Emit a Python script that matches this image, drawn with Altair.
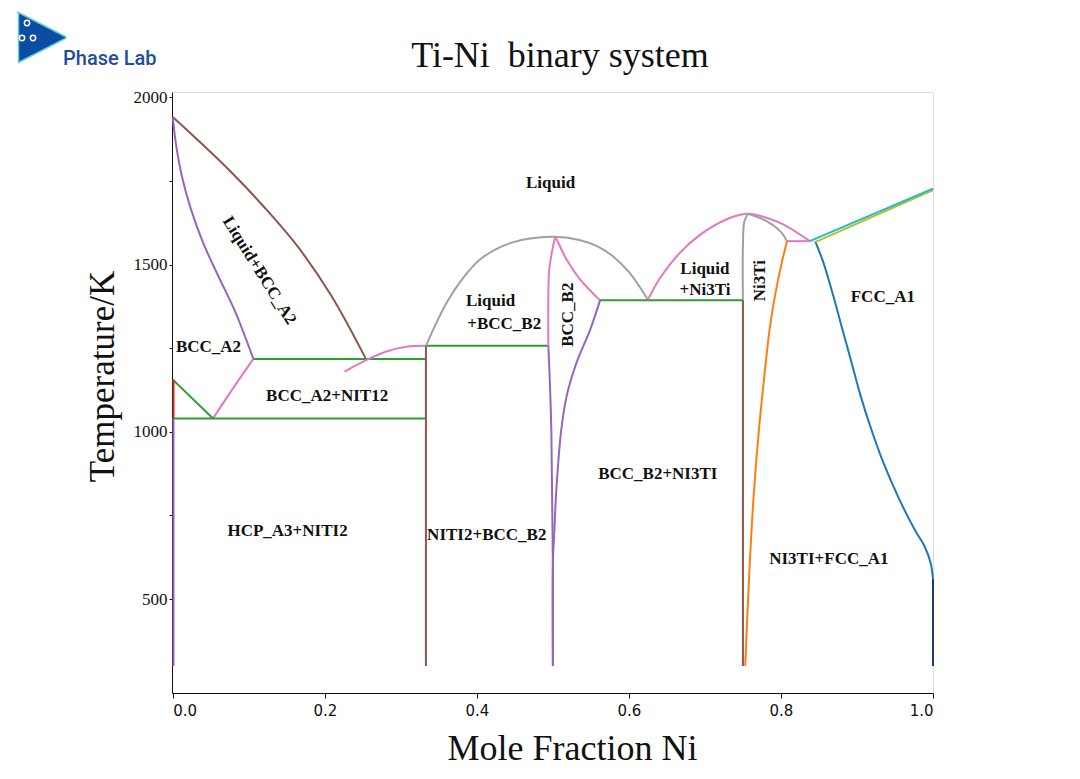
import altair as alt
import pandas as pd

# ---------------- data ----------------
liq_A2_x = [0.0, 0.033, 0.077, 0.121, 0.165, 0.209, 0.254]
liq_A2_T = [1941, 1872, 1776, 1670, 1552, 1405, 1218]

sol_A2_x = [0.0, 0.004, 0.012, 0.024, 0.040, 0.060, 0.081, 0.106]
sol_A2_T = [1941, 1864, 1764, 1665, 1565, 1465, 1365, 1218]

solv_A2_x = [0.106, 0.079, 0.053]
solv_A2_T = [1218, 1129, 1040]

eut_1218_x = [0.106, 0.333]
eut_1218_T = [1218, 1218]

eut_1040_x = [0.0, 0.333]
eut_1040_T = [1040, 1040]

hcp_diag_x = [0.0, 0.053]
hcp_diag_T = [1156, 1040]

hcp_red_x = [0.001, 0.001]
hcp_red_T = [1156, 1040]

hcp_solv_x = [0.001, 0.001]
hcp_solv_T = [1040, 300]

liq_Ti2Ni_x = [0.226, 0.255, 0.281, 0.307, 0.333]
liq_Ti2Ni_T = [1180, 1215, 1240, 1254, 1257]

Ti2Ni_x = [0.333, 0.333]
Ti2Ni_T = [1257, 300]

per_1257_x = [0.333, 0.494]
per_1257_T = [1257, 1257]

liq_B2_x = [0.333, 0.360, 0.382, 0.404, 0.426, 0.448, 0.470, 0.503, 0.536, 0.558, 0.579, 0.601, 0.625]
liq_B2_T = [1257, 1385, 1460, 1515, 1547, 1567, 1578, 1583, 1573, 1555, 1525, 1475, 1395]

sol_B2_left_x = [0.503, 0.499, 0.495, 0.494, 0.494]
sol_B2_left_T = [1583, 1540, 1480, 1400, 1257]

sol_B2_right_x = [0.503, 0.505, 0.518, 0.536, 0.562]
sol_B2_right_T = [1583, 1575, 1515, 1455, 1393]

solv_B2_left_x = [0.494, 0.496, 0.498, 0.499, 0.500, 0.500]
solv_B2_left_T = [1257, 1150, 1000, 800, 600, 300]

solv_B2_right_x = [0.562, 0.549, 0.531, 0.518, 0.511, 0.507, 0.504, 0.502, 0.500, 0.500]
solv_B2_right_T = [1393, 1305, 1206, 1106, 1006, 906, 806, 707, 608, 300]

eut_1393_x = [0.562, 0.750]
eut_1393_T = [1393, 1393]

liq_Ni3Ti_x = [0.625, 0.641, 0.667, 0.693, 0.715, 0.737, 0.757, 0.781, 0.803, 0.825, 0.838]
liq_Ni3Ti_T = [1395, 1460, 1535, 1588, 1620, 1643, 1652, 1640, 1620, 1590, 1570]

Ni3Ti_right_x = [0.757, 0.781, 0.799, 0.808]
Ni3Ti_right_T = [1652, 1630, 1600, 1570]

Ni3Ti_left_x = [0.757, 0.752, 0.750, 0.750]
Ni3Ti_left_T = [1652, 1630, 1560, 1393]

Ni3Ti_low_x = [0.750, 0.750]
Ni3Ti_low_T = [1393, 300]

eut_1570_x = [0.808, 0.838]
eut_1570_T = [1570, 1570]

solv_Ni3Ti_x = [0.808, 0.801, 0.792, 0.785, 0.780, 0.771, 0.764, 0.759, 0.755, 0.753]
solv_Ni3Ti_T = [1570, 1505, 1405, 1305, 1206, 1006, 806, 607, 407, 300]

solv_A1_x = [0.845, 0.856, 0.869, 0.881, 0.893, 0.905, 0.919, 0.935, 0.954, 0.976, 0.989, 0.997, 1.0]
solv_A1_T = [1570, 1505, 1405, 1305, 1206, 1106, 1006, 906, 806, 707, 657, 607, 560]

solv_A1_end_x = [1.0, 1.0]
solv_A1_end_T = [560, 300]

sol_A1_x = [0.845, 1.0]
sol_A1_T = [1567, 1723]

liq_A1_x = [0.838, 1.0]
liq_A1_T = [1570, 1727]

label_text = ["Liquid", "Liquid+BCC_A2", "BCC_A2", "BCC_A2+NIT12", "HCP_A3+NITI2",
              "Liquid", "+BCC_B2", "BCC_B2", "NITI2+BCC_B2", "BCC_B2+NI3TI",
              "Liquid", "+Ni3Ti", "Ni3Ti", "FCC_A1", "NI3TI+FCC_A1"]
label_x = [0.497, 0.114, 0.047, 0.203, 0.151,
           0.418, 0.436, 0.520, 0.413, 0.638,
           0.700, 0.700, 0.773, 0.934, 0.863]
label_T = [1745, 1482, 1255, 1106, 704,
           1390, 1322, 1350, 692, 874,
           1488, 1425, 1452, 1402, 619]
label_angle = [0, 58, 0, 0, 0,
               0, 0, 270, 0, 0,
               0, 0, 270, 0, 0]

y_ticks = [500, 750, 1000, 1250, 1500, 1750, 2000]
x_ticks = [0.0, 0.2, 0.4, 0.6, 0.8, 1.0]

chart_title = "Ti-Ni\u00a0 binary system"
logo_name = "Phase Lab"

# ---------------- styles ----------------
C = {"blue": "#1f77b4", "orange": "#ff7f0e", "green": "#2ca02c", "red": "#d62728",
     "purple": "#9467bd", "brown": "#8c564b", "pink": "#e377c2", "gray": "#a0a0a0",
     "olive": "#bcbd22", "cyan": "#17becf", "navy": "#1d3f6e"}

curves = [
    ("liq_A2", liq_A2_x, liq_A2_T, "brown"),
    ("sol_A2", sol_A2_x, sol_A2_T, "purple"),
    ("solv_A2", solv_A2_x, solv_A2_T, "pink"),
    ("eut_1218", eut_1218_x, eut_1218_T, "green"),
    ("eut_1040", eut_1040_x, eut_1040_T, "green"),
    ("hcp_diag", hcp_diag_x, hcp_diag_T, "green"),
    ("hcp_red", hcp_red_x, hcp_red_T, "red"),
    ("hcp_solv", hcp_solv_x, hcp_solv_T, "purple"),
    ("liq_Ti2Ni", liq_Ti2Ni_x, liq_Ti2Ni_T, "pink"),
    ("Ti2Ni", Ti2Ni_x, Ti2Ni_T, "brown"),
    ("per_1257", per_1257_x, per_1257_T, "green"),
    ("liq_B2", liq_B2_x, liq_B2_T, "gray"),
    ("sol_B2_left", sol_B2_left_x, sol_B2_left_T, "pink"),
    ("sol_B2_right", sol_B2_right_x, sol_B2_right_T, "pink"),
    ("solv_B2_left", solv_B2_left_x, solv_B2_left_T, "purple"),
    ("solv_B2_right", solv_B2_right_x, solv_B2_right_T, "purple"),
    ("eut_1393", eut_1393_x, eut_1393_T, "green"),
    ("liq_Ni3Ti", liq_Ni3Ti_x, liq_Ni3Ti_T, "pink"),
    ("Ni3Ti_right", Ni3Ti_right_x, Ni3Ti_right_T, "gray"),
    ("Ni3Ti_left", Ni3Ti_left_x, Ni3Ti_left_T, "gray"),
    ("Ni3Ti_low", Ni3Ti_low_x, Ni3Ti_low_T, "brown"),
    ("eut_1570", eut_1570_x, eut_1570_T, "pink"),
    ("solv_Ni3Ti", solv_Ni3Ti_x, solv_Ni3Ti_T, "orange"),
    ("solv_A1", solv_A1_x, solv_A1_T, "blue"),
    ("solv_A1_end", solv_A1_end_x, solv_A1_end_T, "navy"),
    ("sol_A1", sol_A1_x, sol_A1_T, "olive"),
    ("liq_A1", liq_A1_x, liq_A1_T, "cyan"),
]

rows = []
for k, (name, xs, ts, col) in enumerate(curves):
    for i, (xv, tv) in enumerate(zip(xs, ts)):
        rows.append({"curve": f"{k:02d}_{name}", "seq": i, "x": xv, "T": tv, "col": C[col]})
lines_df = pd.DataFrame(rows)

labels_df = pd.DataFrame({"text": label_text, "x": label_x, "T": label_T, "angle": label_angle})

xscale = alt.Scale(domain=[-0.001, 1.0], nice=False, zero=False)
yscale = alt.Scale(domain=[219, 2016], nice=False, zero=False)

x_axis = alt.Axis(values=x_ticks, format=".1f", title="Mole Fraction Ni",
                  labelFont="DejaVu Sans", labelFontSize=15, labelColor="#111",
                  labelPadding=5, tickSize=5, tickColor="#111", domainColor="#111",
                  grid=False, titleFont="Liberation Serif", titleFontSize=36,
                  titleFontWeight="normal", titleColor="#111",
                  titleX=400, titleY=66, titleAlign="center", titleBaseline="alphabetic")
y_axis = alt.Axis(values=y_ticks, labelExpr="datum.value % 500 == 0 ? datum.value : ''",
                  title="Temperature/K", labelFont="Liberation Serif", labelFontSize=17,
                  labelColor="#111", labelPadding=2, tickSize=3, tickColor="#111",
                  domainColor="#111", grid=False, titleFont="Liberation Serif",
                  titleFontSize=35, titleFontWeight="normal", titleColor="#111",
                  titleAngle=270, titleX=-59, titleY=284, titleAlign="center",
                  titleBaseline="alphabetic")

lines = alt.Chart(lines_df).mark_line(strokeWidth=2, interpolate="catmull-rom").encode(
    x=alt.X("x:Q", scale=xscale, axis=x_axis),
    y=alt.Y("T:Q", scale=yscale, axis=y_axis),
    detail="curve:N",
    order="seq:Q",
    color=alt.Color("col:N", scale=None),
)

labels = alt.Chart(labels_df).mark_text(font="Liberation Serif", fontSize=17,
                                        fontWeight="bold", color="#111",
                                        align="center", baseline="middle").encode(
    x=alt.X("x:Q", scale=xscale),
    y=alt.Y("T:Q", scale=yscale),
    text="text:N",
    angle=alt.Angle("angle:Q", scale=None),
)

title_mark = alt.Chart(pd.DataFrame({"t": [chart_title]})).mark_text(
    font="Liberation Serif", fontSize=36, color="#111", align="center",
    baseline="alphabetic"
).encode(x=alt.value(388), y=alt.value(-25), text="t:N")

logo_icon = alt.Chart(pd.DataFrame({"k": ["icon"]})).mark_point(
    shape="M -0.9 -1 Q -1 -1 -0.9 -1 L 0.95 -0.05 Q 1.05 0 0.95 0.05 L -0.9 1 Z",
    filled=True, size=2500, color="#0c4ca3", opacity=1, stroke="#5fd0d8", strokeWidth=1.5
).encode(x=alt.value(-131), y=alt.value(-54.5))

logo_dot1 = alt.Chart(pd.DataFrame({"k": ["a"]})).mark_point(
    shape="circle", size=28, color="white", strokeWidth=1.5, filled=False, opacity=1
).encode(x=alt.value(-145), y=alt.value(-69))
logo_dot2 = alt.Chart(pd.DataFrame({"k": ["b"]})).mark_point(
    shape="circle", size=28, color="white", strokeWidth=1.5, filled=False, opacity=1
).encode(x=alt.value(-150), y=alt.value(-54))
logo_dot3 = alt.Chart(pd.DataFrame({"k": ["c"]})).mark_point(
    shape="circle", size=28, color="white", strokeWidth=1.5, filled=False, opacity=1
).encode(x=alt.value(-139), y=alt.value(-54))

logo_text = alt.Chart(pd.DataFrame({"t": [logo_name]})).mark_text(
    font="Roboto", fontSize=20, fontWeight=500, color="#1e4d9b", align="left",
    baseline="alphabetic"
).encode(x=alt.value(-109), y=alt.value(-27), text="t:N")

chart = alt.layer(lines, labels, title_mark, logo_icon, logo_dot1, logo_dot2, logo_dot3,
                  logo_text).properties(
    width=761, height=601,
    autosize=alt.AutoSizeParams(type="none"),
    padding={"left": 164, "top": 84, "right": 120, "bottom": 76},
).configure_view(stroke="#111", strokeWidth=1.2).configure(background="white")

chart.save("out.html", embed_options={"renderer": "svg", "actions": False})
